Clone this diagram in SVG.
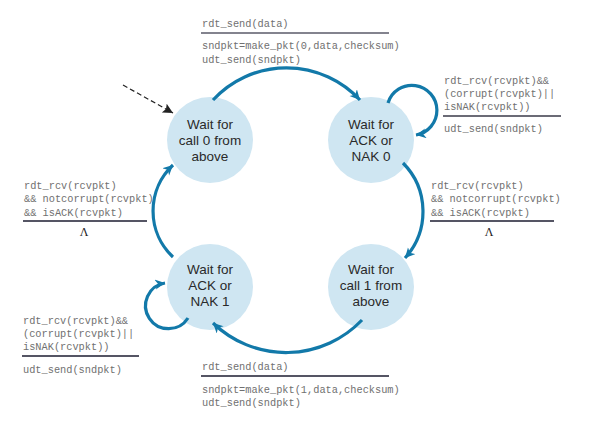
<svg xmlns="http://www.w3.org/2000/svg" width="615" height="426" viewBox="0 0 615 426">
<defs>
<marker id="ah" markerUnits="userSpaceOnUse" markerWidth="12" markerHeight="12" refX="10" refY="5" orient="auto">
<path d="M0,0 L10,5 L0,10 L3,5 Z" fill="#1279a9"/>
</marker>
<marker id="ahk" markerUnits="userSpaceOnUse" markerWidth="12" markerHeight="12" refX="10" refY="5" orient="auto">
<path d="M0,0 L10,5 L0,10 L2,5 Z" fill="#222"/>
</marker>
<style>
.st circle{fill:#cfe6f2;}
.st text{font-family:"Liberation Sans","Noto Sans",sans-serif;font-size:13.5px;fill:#2a2a2a;text-anchor:middle;}
.arc{fill:none;stroke:#1279a9;stroke-width:3.2;marker-end:url(#ah);}
.lb{font-family:"Liberation Mono","DejaVu Sans Mono",monospace;font-size:10.3px;fill:#707070;}
.bar{stroke:#1c1c30;stroke-width:1.6;}
.lam{font-family:"Liberation Serif",serif;font-size:12px;fill:#222;text-anchor:middle;}
</style>
</defs>

<g id="s0" class="st">
<circle cx="210" cy="140" r="43"/>
<text x="210" y="129">Wait for</text>
<text x="210" y="145">call 0 from</text>
<text x="210" y="161">above</text>
</g>
<g id="s1" class="st">
<circle cx="371" cy="140" r="43"/>
<text x="371" y="129">Wait for</text>
<text x="371" y="145">ACK or</text>
<text x="371" y="161">NAK 0</text>
</g>
<g id="s2" class="st">
<circle cx="371" cy="287" r="43"/>
<text x="371" y="274">Wait for</text>
<text x="371" y="290">call 1 from</text>
<text x="371" y="306">above</text>
</g>
<g id="s3" class="st">
<circle cx="210" cy="287" r="43"/>
<text x="210" y="274">Wait for</text>
<text x="210" y="290">ACK or</text>
<text x="210" y="306">NAK 1</text>
</g>

<g id="connectors">
<path class="arc" d="M213,100 A100,100 0 0 1 360,100"/>
<path class="arc" d="M388,103 A25,25 0 1 1 416,135"/>
<path class="arc" d="M403,163 A69,69 0 0 1 405,258"/>
<path class="arc" d="M362,320 A105,105 0 0 1 213,323"/>
<path class="arc" d="M188,318 A23,23 0 1 1 165,283"/>
<path class="arc" d="M173,257 A63,63 0 0 1 173,165"/>
<path d="M123,85 L173,113" fill="none" stroke="#222" stroke-width="1.2" stroke-dasharray="5,3" marker-end="url(#ahk)"/>
</g>

<g id="label-top">
<text class="lb" x="202" y="27">rdt_send(data)</text>
<line class="bar" x1="201" y1="33" x2="389" y2="33" style="stroke:#5a5a68"/>
<text class="lb" x="202" y="49">sndpkt=make_pkt(0,data,checksum)</text>
<text class="lb" x="202" y="63">udt_send(sndpkt)</text>
</g>
<g id="label-loop0">
<text class="lb" x="444" y="84">rdt_rcv(rcvpkt)&amp;&amp;</text>
<text class="lb" x="444" y="97">(corrupt(rcvpkt)||</text>
<text class="lb" x="444" y="110">isNAK(rcvpkt))</text>
<line class="bar" x1="443" y1="116" x2="561" y2="116" style="stroke:#3a3a48"/>
<text class="lb" x="444" y="132">udt_send(sndpkt)</text>
</g>
<g id="label-right">
<text class="lb" x="431" y="189">rdt_rcv(rcvpkt)</text>
<text class="lb" x="431" y="202">&amp;&amp; notcorrupt(rcvpkt)</text>
<text class="lb" x="431" y="216">&amp;&amp; isACK(rcvpkt)</text>
<line class="bar" x1="430" y1="221" x2="554" y2="221"/>
<text class="lam" x="489" y="236">Λ</text>
</g>
<g id="label-left">
<text class="lb" x="24" y="189">rdt_rcv(rcvpkt)</text>
<text class="lb" x="24" y="202">&amp;&amp; notcorrupt(rcvpkt)</text>
<text class="lb" x="24" y="216">&amp;&amp; isACK(rcvpkt)</text>
<line class="bar" x1="23" y1="221" x2="147" y2="221"/>
<text class="lam" x="84" y="236">Λ</text>
</g>
<g id="label-loop1">
<text class="lb" x="23" y="324">rdt_rcv(rcvpkt)&amp;&amp;</text>
<text class="lb" x="23" y="337">(corrupt(rcvpkt)||</text>
<text class="lb" x="23" y="350">isNAK(rcvpkt))</text>
<line class="bar" x1="22" y1="356" x2="139" y2="356"/>
<text class="lb" x="23" y="373">udt_send(sndpkt)</text>
</g>
<g id="label-bottom">
<text class="lb" x="202" y="370">rdt_send(data)</text>
<line class="bar" x1="201" y1="376" x2="389" y2="376"/>
<text class="lb" x="202" y="393">sndpkt=make_pkt(1,data,checksum)</text>
<text class="lb" x="202" y="406">udt_send(sndpkt)</text>
</g>
</svg>
